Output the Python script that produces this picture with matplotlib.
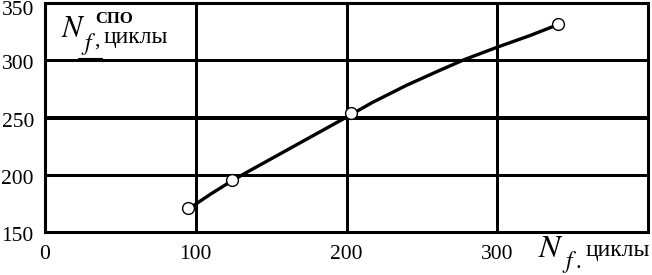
import matplotlib
matplotlib.use("Agg")
import matplotlib.pyplot as plt
import matplotlib.transforms as mtransforms

plt.rcParams['font.family'] = ['Liberation Serif', 'DejaVu Serif']
plt.rcParams['mathtext.fontset'] = 'stix'

# measured points
pts_x = [95, 124, 203, 340]
pts_y = [171, 195.5, 254, 332]

# trend curve
curve_x = [97, 110, 124, 134, 156, 178, 200, 217, 240, 262, 278, 300, 322, 336]
curve_y = [172, 183.5, 195, 202.5, 218.5, 234.5, 250.5, 263.2, 278.4, 291.4, 300.6, 311.5, 321.8, 329]

x_ticks = [0, 100, 200, 300]
y_ticks = [150, 200, 250, 300, 350]
x_grid = [100, 200, 300]
x_grid_lw = [2.0, 0.9, 1.8]
y_grid = [200, 250, 300]
y_grid_lw = [2.0, 1.5, 1.0]

fig = plt.figure(figsize=(6.52, 2.75), dpi=100)
ax = fig.add_axes([0.069, 0.155, 0.925, 0.834])

for v, w in zip(x_grid, x_grid_lw):
    ax.axvline(v, color='black', lw=w, zorder=1, antialiased=False)
for v, w in zip(y_grid, y_grid_lw):
    ax.axhline(v, color='black', lw=w, zorder=1, antialiased=False)

ax.plot(curve_x, curve_y, color='black', lw=2.4, zorder=2)
ax.plot(pts_x, pts_y, 'o', ms=8.5, mfc='white', mec='black', mew=1.0, zorder=3)

ax.set_xlim(0, 400)
ax.set_ylim(150, 350)
ax.set_xticks(x_ticks)
ax.set_yticks(y_ticks)
ax.tick_params(length=0, labelsize=15.5)
ax.tick_params(axis='x', pad=9)
ax.tick_params(axis='y', pad=8)
for s in ax.spines.values():
    s.set_linewidth(2.2)

# y tick labels sit a little below their lines
for lab, val in zip(ax.get_yticklabels(), y_ticks):
    dy = -5 if val == 350 else -2
    off = mtransforms.ScaledTranslation(0, dy / 100, fig.dpi_scale_trans)
    lab.set_transform(lab.get_transform() + off)


def put(x, y, s, size, **kw):
    ax.text(x, y, s, transform=ax.transAxes, fontsize=size, ha='left',
            va='baseline', clip_on=False, **kw)


# y-axis label inside the plot: N_f, циклы with СПО above
put(0.027, 0.852, r'$N$', 22)
put(0.059, 0.795, r'$f$', 17)
put(0.082, 0.815, ',', 16)
put(0.097, 0.825, 'циклы', 17)
put(0.083, 0.913, 'СПО', 12, fontweight='bold')
ax.plot([0.056, 0.094], [0.757, 0.757], transform=ax.transAxes, color='black',
        lw=1.5, clip_on=False)

# x-axis label in place of the last tick
put(0.817, -0.107, r'$N$', 23)
put(0.857, -0.155, r'$f$', 17)
put(0.880, -0.155, '.', 16)
put(0.896, -0.105, 'циклы', 17)

fig.savefig('out.png', dpi=100)
